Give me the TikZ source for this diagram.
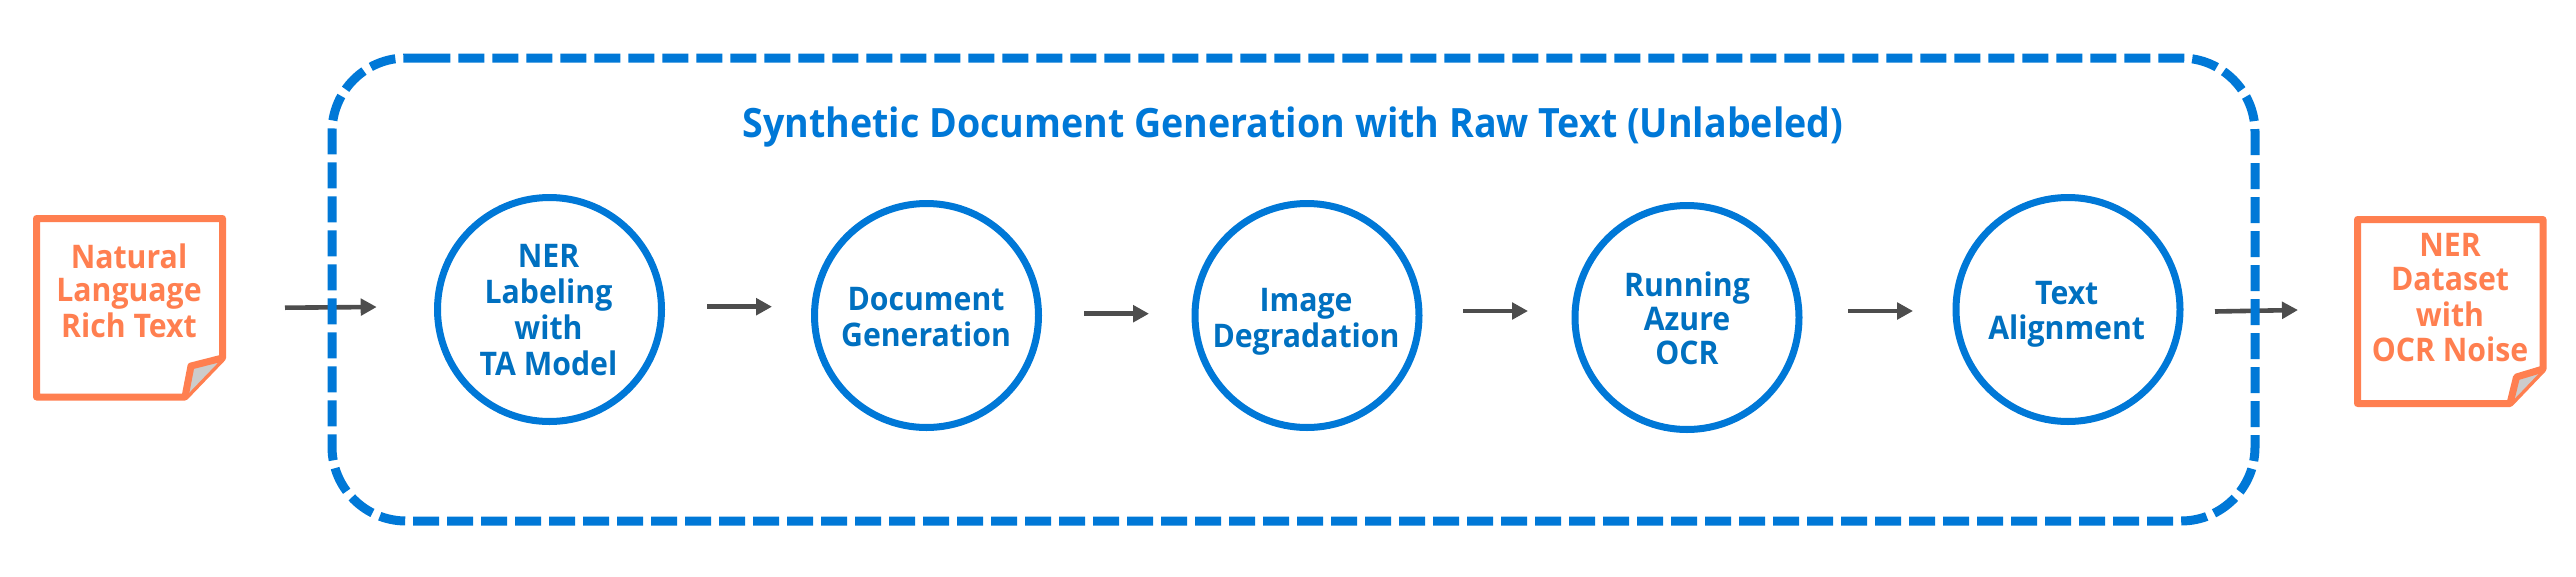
\documentclass[tikz,border=0pt]{standalone}
\usepackage{fontspec}
\setmainfont{Open Sans}[BoldFont={Open Sans Bold},BoldFeatures={FakeStretch=0.93}]
\usetikzlibrary{arrows.meta}
\definecolor{azure}{HTML}{0078D7}
\definecolor{azuretext}{HTML}{0070C0}
\definecolor{coral}{HTML}{FF7F50}
\definecolor{arrowgrey}{HTML}{4D4D4D}
\definecolor{foldgrey}{HTML}{CCCCCC}
\tikzset{
  stage/.style={circle,draw=azure,line width=7pt,minimum size=224pt,inner sep=0pt},
  stagetext/.style={text=azuretext,align=center,inner sep=0pt,font=\bfseries\fontsize{32.5}{33.7}\selectfont},
  notetext/.style={text=coral,align=center,inner sep=0pt,font=\bfseries\fontsize{32.5}{33.7}\selectfont},
  titletext/.style={text=azure,anchor=base,inner sep=0pt,font=\bfseries\fontsize{40.4}{46}\selectfont},
  flow/.style={draw=arrowgrey,line width=4.6pt,-{Triangle[length=16pt,width=16.5pt]}},
  notepage/.style={draw=coral,line width=7pt,line join=round,fill=white},
  notefold/.style={draw=coral,line width=7pt,line join=round,fill=foldgrey},
  groupbox/.style={draw=azure,line width=9pt,dash pattern=on 26pt off 8pt,rounded corners=74pt}
}
\begin{document}
\begin{tikzpicture}[x=1pt,y=-1pt]
\useasboundingbox[fill=white] (0,0) rectangle (2576,576);
% connector end points
\coordinate (a0s) at (285,307.7);  \coordinate (a0e) at (376.7,307);
\coordinate (a1s) at (707,306.7);  \coordinate (a1e) at (772,306.7);
\coordinate (a2s) at (1084,313.7); \coordinate (a2e) at (1149,313.7);
\coordinate (a3s) at (1463,311);   \coordinate (a3e) at (1528,311);
\coordinate (a4s) at (1848,311);   \coordinate (a4e) at (1913,311);
\coordinate (a5s) at (2215,311.5); \coordinate (a5e) at (2298,310);
% connectors
\draw[flow] (a0s) -- (a0e);
\draw[flow] (a1s) -- (a1e);
\draw[flow] (a2s) -- (a2e);
\draw[flow] (a3s) -- (a3e);
\draw[flow] (a4s) -- (a4e);
\draw[flow] (a5s) -- (a5e);
% dashed group
\draw[groupbox] (424.3,58) -- (2255,58) -- (2255,521) -- (332,521) -- (332,58) -- (424.3,58);
\node[titletext] (title) at (1293,137.5) {Synthetic Document Generation with Raw Text (Unlabeled)};
% stages
\node[stage] (c1) at (549.5,309.5) {};
\node[stage] (c2) at (926.5,315.5) {};
\node[stage] (c3) at (1307,315.5) {};
\node[stage] (c4) at (1687,317.5) {};
\node[stage] (c5) at (2068,309.5) {};
\node[stagetext] (t1) at (548.5,314.6) {\strut NER\\\strut Labeling\\\strut with\\\strut TA Model};
\node[stagetext] (t2) at (926,321.9) {\strut Document\\\strut Generation};
\node[stagetext] (t3) at (1306,322.5) {\strut Image\\\strut Degradation};
\node[stagetext] (t4) at (1687,323.1) {\strut Running\\\strut Azure\\\strut OCR};
\node[stagetext] (t5) at (2066.7,315.3) {\strut Text\\\strut Alignment};
% input note
\draw[notepage] (36.5,218.5) -- (222.5,218.5) -- (222.5,358) -- (185,397) -- (36.5,397) -- cycle;
\draw[notefold] (185,397) -- (191,366) -- (222.5,358);
\node[notetext] (n1) at (129,295.5) {\strut Natural\\\strut Language\\\strut Rich Text};
% output note
\draw[notepage] (2357.5,219.5) -- (2543,219.5) -- (2543,369) -- (2510,403.5) -- (2357.5,403.5) -- cycle;
\draw[notefold] (2510,403.5) -- (2516.5,377) -- (2543,369);
\node[notetext] (n2) at (2450,302.6) {\strut NER\\\strut Dataset\\\strut with\\\strut OCR Noise};
\end{tikzpicture}
\end{document}
